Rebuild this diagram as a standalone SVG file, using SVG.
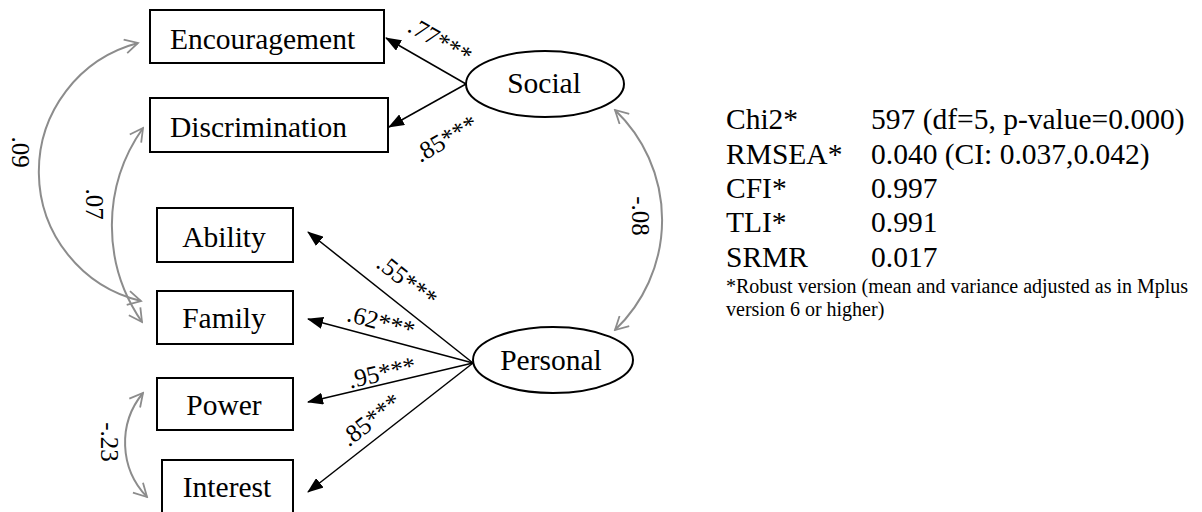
<svg xmlns="http://www.w3.org/2000/svg" width="1202" height="512" viewBox="0 0 1202 512">
<defs>
<style>
.box{fill:#fff;stroke:#000;stroke-width:2}
.ell{fill:#fff;stroke:#000;stroke-width:2}
.t{font-family:"Liberation Serif","Times New Roman",serif;font-size:29.5px;fill:#000}
.c{font-family:"Liberation Serif","Times New Roman",serif;font-size:25px;fill:#000;text-anchor:middle}
.fn{font-family:"Liberation Serif","Times New Roman",serif;font-size:20px;fill:#000}
.ld{stroke:#000;stroke-width:1.5;fill:none;marker-end:url(#ah)}
.cov{fill:none;stroke:#8c8c8c;stroke-width:2;marker-start:url(#oh);marker-end:url(#oh)}
</style>
<marker id="ah" markerUnits="userSpaceOnUse" viewBox="0 0 16 12" markerWidth="16" markerHeight="12" refX="15" refY="6" orient="auto"><path d="M0,0 L16,6 L0,12 z" fill="#000"/></marker>
<marker id="oh" markerUnits="userSpaceOnUse" viewBox="0 0 16 16" markerWidth="16" markerHeight="16" refX="14" refY="8" orient="auto-start-reverse"><path d="M1,1 L14,8 L1,15" fill="none" stroke="#8c8c8c" stroke-width="1.8"/></marker>
</defs>
<rect width="1202" height="512" fill="#fff"/>

<g id="connectors">
<line class="ld" x1="466" y1="84" x2="386" y2="38"/>
<line class="ld" x1="466" y1="84" x2="389" y2="127"/>
<line class="ld" x1="473" y1="363" x2="308" y2="232"/>
<line class="ld" x1="473" y1="363" x2="308" y2="319"/>
<line class="ld" x1="473" y1="363" x2="308" y2="402"/>
<line class="ld" x1="473" y1="363" x2="308" y2="492"/>
<path class="cov" d="M138,43 A133,133 0 0 0 141,301"/>
<path class="cov" d="M143,128 A169,169 0 0 0 142,322"/>
<path class="cov" d="M143,393 A78,78 0 0 0 147,497"/>
<path class="cov" d="M615,110 A152,152 0 0 1 615,330"/>
<text class="c" transform="translate(440,41) rotate(30)" y="8">.77***</text>
<text class="c" transform="translate(446,139) rotate(-30)" y="8">.85***</text>
<text class="c" transform="translate(407,281) rotate(38)" y="8">.55***</text>
<text class="c" transform="translate(381,322) rotate(15)" y="8">.62***</text>
<text class="c" transform="translate(382,373) rotate(-13)" y="8">.95***</text>
<text class="c" transform="translate(371,420) rotate(-38)" y="8">.85***</text>
<text class="c" transform="translate(20,152) rotate(90)" y="8">.09</text>
<text class="c" transform="translate(94,204) rotate(90)" y="8">.07</text>
<text class="c" transform="translate(109,442) rotate(90)" y="8">-.23</text>
<text class="c" transform="translate(640,216) rotate(90)" y="8">-.08</text>
</g>

<g id="encouragement"><rect class="box" x="150" y="10" width="234" height="53"/><text class="t" x="170" y="49">Encouragement</text></g>
<g id="discrimination"><rect class="box" x="150" y="98" width="238" height="54"/><text class="t" x="170" y="137">Discrimination</text></g>
<g id="ability"><rect class="box" x="157" y="208" width="136" height="54"/><text class="t" x="224" y="247" text-anchor="middle">Ability</text></g>
<g id="family"><rect class="box" x="157" y="291" width="136" height="53"/><text class="t" x="224" y="328" text-anchor="middle">Family</text></g>
<g id="power"><rect class="box" x="157" y="378" width="136" height="52"/><text class="t" x="224" y="415" text-anchor="middle">Power</text></g>
<g id="interest"><rect class="box" x="162" y="460" width="131" height="56"/><text class="t" x="227" y="497" text-anchor="middle">Interest</text></g>
<g id="social"><ellipse class="ell" cx="545" cy="84" rx="79" ry="33"/><text class="t" x="544" y="93" text-anchor="middle">Social</text></g>
<g id="personal"><ellipse class="ell" cx="553" cy="360" rx="80" ry="33"/><text class="t" x="551" y="370" text-anchor="middle">Personal</text></g>

<g id="fit-stats">
<text class="t" x="726" y="129">Chi2*</text><text class="t" x="871" y="129">597 (df=5, p-value=0.000)</text>
<text class="t" x="726" y="164">RMSEA*</text><text class="t" x="871" y="164">0.040 (CI: 0.037,0.042)</text>
<text class="t" x="726" y="198">CFI*</text><text class="t" x="871" y="198">0.997</text>
<text class="t" x="726" y="232">TLI*</text><text class="t" x="871" y="232">0.991</text>
<text class="t" x="726" y="267">SRMR</text><text class="t" x="871" y="267">0.017</text>
<text class="fn" x="726" y="293">*Robust version (mean and variance adjusted as in Mplus</text>
<text class="fn" x="726" y="316">version 6 or higher)</text>
</g>
</svg>
